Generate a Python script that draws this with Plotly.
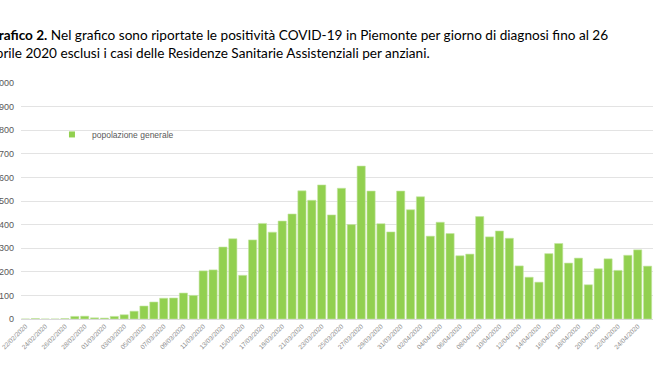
import plotly.graph_objects as go

dates = [
    "22/02/2020", "23/02/2020", "24/02/2020", "25/02/2020", "26/02/2020", "27/02/2020", "28/02/2020", "29/02/2020",
    "01/03/2020", "02/03/2020", "03/03/2020", "04/03/2020", "05/03/2020", "06/03/2020", "07/03/2020", "08/03/2020",
    "09/03/2020", "10/03/2020", "11/03/2020", "12/03/2020", "13/03/2020", "14/03/2020", "15/03/2020", "16/03/2020",
    "17/03/2020", "18/03/2020", "19/03/2020", "20/03/2020", "21/03/2020", "22/03/2020", "23/03/2020", "24/03/2020",
    "25/03/2020", "26/03/2020", "27/03/2020", "28/03/2020", "29/03/2020", "30/03/2020", "31/03/2020",
    "01/04/2020", "02/04/2020", "03/04/2020", "04/04/2020", "05/04/2020", "06/04/2020", "07/04/2020", "08/04/2020",
    "09/04/2020", "10/04/2020", "11/04/2020", "12/04/2020", "13/04/2020", "14/04/2020", "15/04/2020", "16/04/2020",
    "17/04/2020", "18/04/2020", "19/04/2020", "20/04/2020", "21/04/2020", "22/04/2020", "23/04/2020", "24/04/2020",
    "25/04/2020",
]

cases = [
    0, 2, 0, 0, 2, 11, 12, 5,
    4, 11, 18, 33, 55, 72, 88, 89,
    110, 100, 204, 208, 305, 340, 185, 335,
    405, 368, 415, 445, 543, 503, 568, 441,
    554, 400, 648, 542, 404, 369, 542,
    463, 518, 351, 410, 362, 268, 275, 434,
    348, 373, 342, 225, 177, 156, 277, 320,
    237, 258, 145, 213, 255, 206, 270, 293,
    224,
]

tick_labels = dates[::2]
y_ticks = [0, 100, 200, 300, 400, 500, 600, 700, 800, 900, 1000]

series_name = "popolazione generale"
title_bold = "Grafico 2."
title_text = (" Nel grafico sono riportate le positività COVID-19 in Piemonte per giorno di diagnosi fino al 26"
              "<br>aprile 2020 esclusi i casi delle Residenze Sanitarie Assistenziali per anziani.")

GREEN = "#92d050"

fig = go.Figure()
fig.add_trace(go.Bar(
    x=dates, y=cases, marker=dict(color=GREEN, line=dict(color="#c4e6a2", width=0.6)),
    showlegend=False, name=series_name,
))
fig.add_trace(go.Scatter(
    x=[None], y=[None], mode="markers", name=series_name,
    marker=dict(symbol="square", size=6, color=GREEN),
))

fig.update_layout(
    width=653, height=367,
    margin=dict(l=21, r=0, t=83, b=48),
    paper_bgcolor="white", plot_bgcolor="white",
    bargap=0.17,
    font=dict(family="Liberation Sans", color="#595959"),
    legend=dict(x=0.049, y=0.782, xanchor="left", yanchor="middle",
                font=dict(size=8.5, color="#595959"), bgcolor="rgba(0,0,0,0)",
                itemwidth=30),
    xaxis=dict(type="category", range=[-0.45, 63.55], tickvals=tick_labels, ticktext=tick_labels,
               tickangle=-45, tickfont=dict(size=6.5, color="#8c8c8c"),
               showgrid=False, showline=True, linecolor="#d9d9d9", linewidth=1,
               ticks="", automargin=False),
    yaxis=dict(range=[0, 1000], tickvals=y_ticks, ticktext=[str(v) for v in y_ticks],
               tickfont=dict(size=9, color="#595959"),
               showgrid=True, gridcolor="#e3e3e3", gridwidth=1, zeroline=False,
               showline=False, ticks="", automargin=False, ticklabelstandoff=6),
    annotations=[dict(
        xref="paper", yref="paper", x=-0.054, y=1.2465, xanchor="left", yanchor="top",
        align="left", showarrow=False,
        text="<b>" + title_bold + "</b>" + title_text,
        font=dict(family="Lato", size=13.6, color="#000000"),
    )],
)

fig.write_html("out.html", config={"displayModeBar": False},
               post_script="document.body.style.margin='0';")
